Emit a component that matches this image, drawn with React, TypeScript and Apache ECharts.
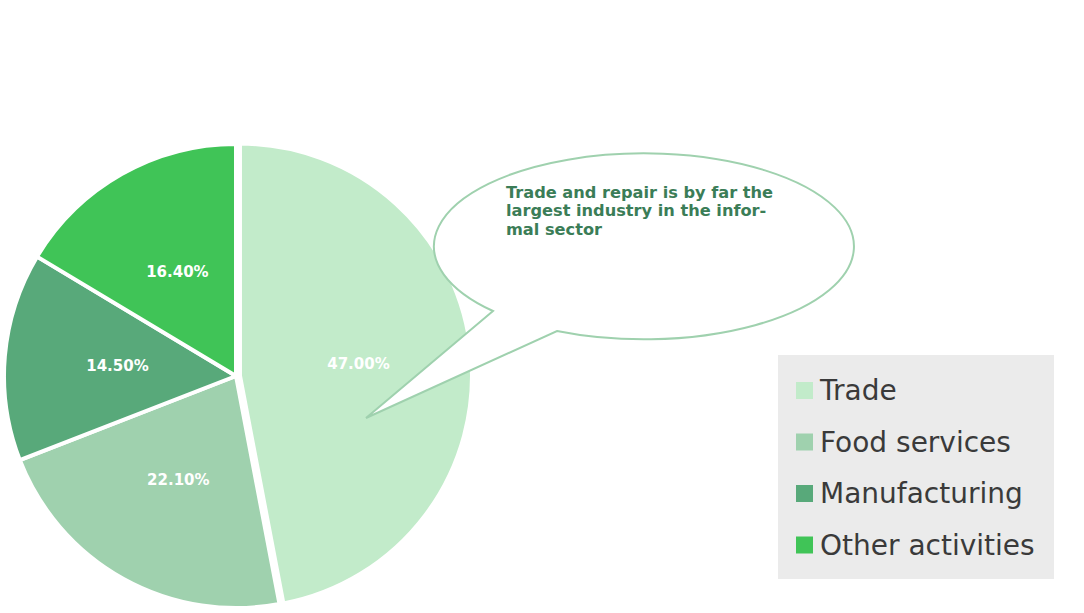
import React, { useEffect, useRef } from "react";
import * as echarts from "echarts";

// Share of informal-sector employment by industry (%)
const categories = ["Trade", "Food services", "Manufacturing", "Other activities"];
const shares = [47.0, 22.1, 14.5, 16.4];
const colors = ["#c2ebca", "#9fd1ae", "#58a97a", "#40c457"];
const calloutLines = [
  "Trade and repair is by far the",
  "largest industry in the infor-",
  "mal sector",
];

// Speech-bubble outline: ellipse with a tail pointing into the Trade slice
const bubblePath =
  "M 493 311 L 366 418 L 557 331 A 210 93 0 1 0 493 311 Z";
echarts.graphic.registerShape("bubble", echarts.graphic.extendPath(bubblePath, {}));

export default function App() {
  const ref = useRef<HTMLDivElement>(null);

  useEffect(() => {
    if (!ref.current) return;
    const chart = echarts.init(ref.current, undefined, { renderer: "svg" });
    chart.setOption({
      animation: false,
      backgroundColor: "#ffffff",
      color: colors,
      legend: {
        orient: "vertical",
        left: 796,
        top: 373.5,
        padding: 0,
        itemWidth: 17,
        itemHeight: 17,
        itemGap: 17.5,
        icon: "rect",
        selectedMode: false,
        data: categories,
        itemStyle: { borderWidth: 0 },
        textStyle: {
          fontFamily: "DejaVu Sans",
          fontSize: 28,
          lineHeight: 34,
          color: "#3a3a3a",
          padding: [0, 0, 0, 2],
        },
      },
      graphic: [
        {
          type: "rect",
          z: -1,
          shape: { x: 778, y: 355, width: 276, height: 224 },
          style: { fill: "#ebebeb" },
        },
        {
          type: "bubble",
          z: 100,
          x: 0,
          y: 0,
          style: { fill: "#ffffff", stroke: "#9fd1ae", lineWidth: 2 },
        },
        {
          type: "text",
          z: 101,
          x: 506,
          y: 183,
          style: {
            text: calloutLines.join("\n"),
            font: 'bold 16.2px "DejaVu Sans"',
            lineHeight: 18.5,
            fill: "#3b7d57",
            textVerticalAlign: "top",
          },
        },
      ],
      series: [
        {
          type: "pie",
          center: [236, 376],
          radius: 232,
          startAngle: 90,
          clockwise: true,
          selectedMode: "single",
          selectedOffset: 4,
          avoidLabelOverlap: false,
          itemStyle: { borderColor: "#ffffff", borderWidth: 4 },
          label: {
            show: true,
            position: "inside",
            color: "#ffffff",
            fontFamily: "DejaVu Sans",
            fontWeight: "bold",
            fontSize: 15,
            formatter: (p: any) => p.value.toFixed(2) + "%",
          },
          labelLine: { show: false },
          emphasis: { disabled: true },
          data: categories.map((name, i) => ({
            name,
            value: shares[i],
            selected: i === 0,
          })),
        },
      ],
    });
    return () => chart.dispose();
  }, []);

  return (
    <div
      ref={ref}
      style={{ position: "fixed", left: 0, top: 0, width: 1084, height: 613 }}
    />
  );
}
